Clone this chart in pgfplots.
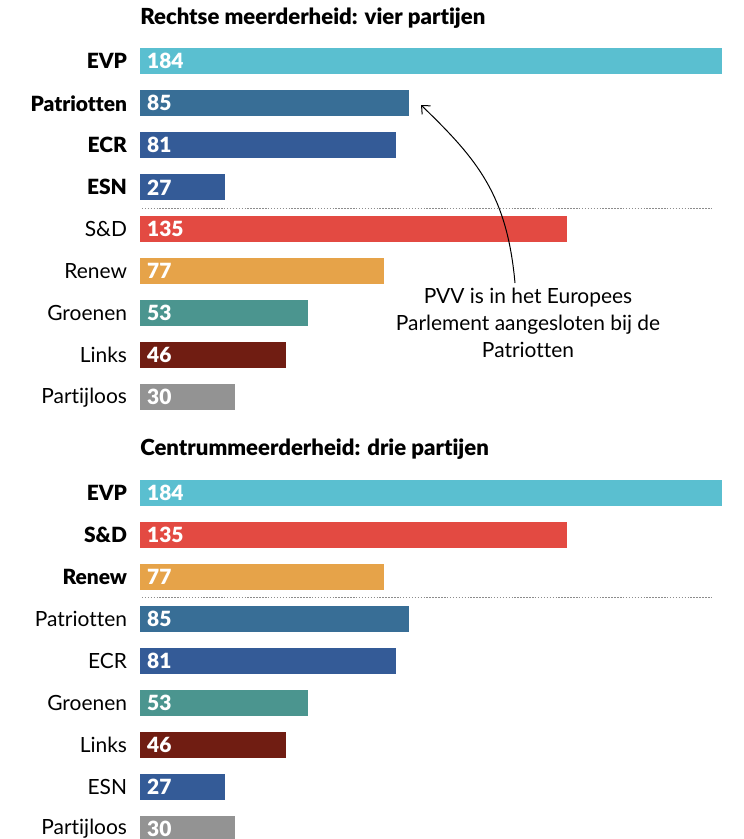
\documentclass[border=0pt]{standalone}
\usepackage{fontspec}
\setmainfont{Lato}[BoldFont={Lato Black}, Ligatures=NoCommon]
\usepackage{pgfplots}
\pgfplotsset{compat=1.18}
\usetikzlibrary{arrows.meta}

\definecolor{cEVP}{HTML}{5ABFD0}
\definecolor{cPAT}{HTML}{386E96}
\definecolor{cECR}{HTML}{345B97}
\definecolor{cSD}{HTML}{E34A42}
\definecolor{cREN}{HTML}{E6A349}
\definecolor{cGRO}{HTML}{4B958F}
\definecolor{cLNK}{HTML}{701D12}
\definecolor{cPL}{HTML}{939393}

% one bar: colour, seats, row
\newcommand{\seat}[3]{\addplot[fill=#1, draw=none] coordinates {(#2,#3)};}

\tikzset{sepline/.style={gray!90, line width=0.75pt, dash pattern=on 1.1pt off 1.1pt}}

\pgfplotsset{
  seatpanel/.style={
    xbar, bar width=19.5pt, bar shift=0pt,
    x=2.37228pt, y=31.5pt, y dir=reverse,
    xmin=0, xmax=184, ymin=-0.5, ymax=8.5,
    anchor=north west, clip=false,
    axis line style={draw=none}, tick style={draw=none},
    xtick=\empty, ytick={0,...,8},
    yticklabel style={font=\fontsize{15.7}{18}\selectfont, inner sep=0pt, xshift=-5.3pt, text=black},
    title style={at={(axis description cs:0,1)}, anchor=base west, yshift=6.2pt,
      inner sep=0pt, font=\bfseries\fontsize{16.6}{18}\selectfont},
  },
  seatlabels/.style={draw=none, fill=none, nodes near coords, point meta=explicit symbolic,
    every node near coord/.style={anchor=west, text=white, inner sep=0pt, xshift=5.2pt,
      font=\bfseries\fontsize{15.7}{18}\selectfont}},
}

\begin{document}
\begin{tikzpicture}[x=0.75pt, y=-0.75pt]
\path[use as bounding box] (0,0) rectangle (743,839);

\begin{axis}[seatpanel, at={(105pt,-30.225pt)},
  title={Rechtse meerderheid: vier partijen},
  yticklabels={\textbf{EVP},\textbf{Patriotten},\textbf{ECR},\textbf{ESN},S\&D,Renew,Groenen,Links,Partijloos}]
\seat{cEVP}{184}{0}
\seat{cPAT}{85}{1}
\seat{cECR}{81}{2}
\seat{cECR}{27}{3}
\seat{cSD}{135}{4}
\seat{cREN}{77}{5}
\seat{cGRO}{53}{6}
\seat{cLNK}{46}{7}
\seat{cPL}{30}{8}
\addplot[seatlabels] table[meta=v] {
x y v
0 0 184
0 1 85
0 2 81
0 3 27
0 4 135
0 5 77
0 6 53
0 7 46
0 8 30
};
\draw[sepline] (axis cs:0.6,3.5) -- (axis cs:181.2,3.5);
\end{axis}

\begin{axis}[seatpanel, at={(105pt,-353.625pt)},
  title={Centrummeerderheid: drie partijen},
  yticklabels={\textbf{EVP},\textbf{S\&D},\textbf{Renew},Patriotten,ECR,Groenen,Links,ESN,Partijloos}]
\seat{cEVP}{184}{0}
\seat{cSD}{135}{1}
\seat{cREN}{77}{2}
\seat{cPAT}{85}{3}
\seat{cECR}{81}{4}
\seat{cGRO}{53}{5}
\seat{cLNK}{46}{6}
\seat{cECR}{27}{7}
\seat{cPL}{30}{8}
\addplot[seatlabels] table[meta=v] {
x y v
0 0 184
0 1 135
0 2 77
0 3 85
0 4 81
0 5 53
0 6 46
0 7 27
0 8 30
};
\draw[sepline] (axis cs:0.6,2.5) -- (axis cs:181.2,2.5);
\end{axis}

% annotation
\node[align=center, anchor=north, inner sep=0pt, font=\fontsize{15.7}{20.3}\selectfont]
  at (528,287.5) {PVV is in het Europees\\Parlement aangesloten bij de\\Patriotten};
\draw[line width=0.75pt, -{Straight Barb[length=5pt,width=9pt]}]
  (515,283) .. controls (507,195) and (478,160) .. (421,105);
\end{tikzpicture}
\end{document}
